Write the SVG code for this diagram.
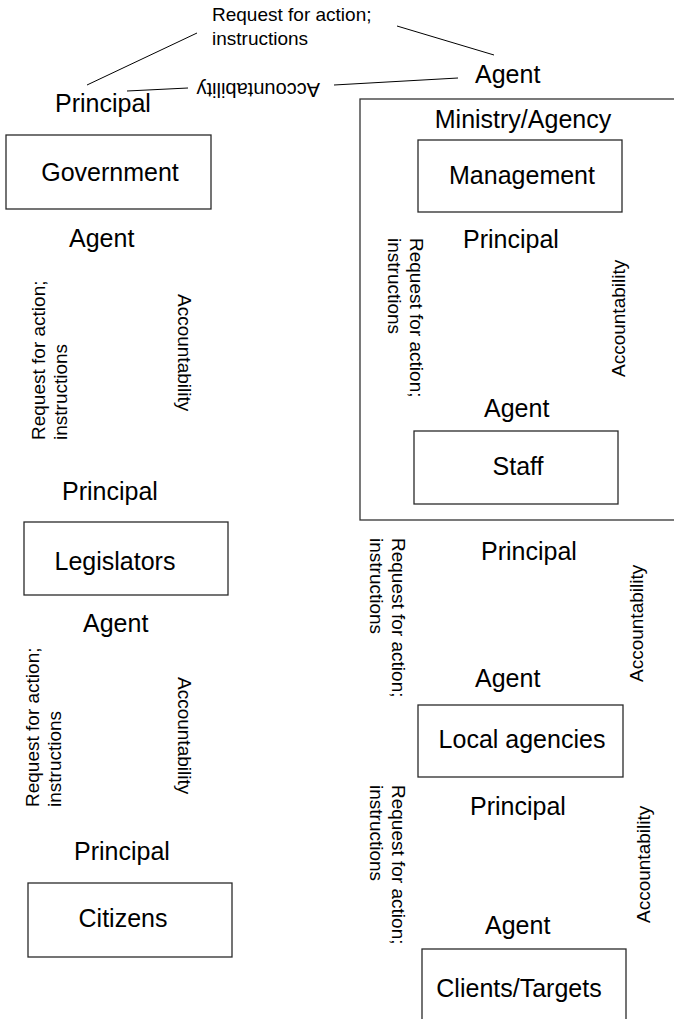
<svg xmlns="http://www.w3.org/2000/svg" width="674" height="1019" viewBox="0 0 674 1019">
  <style>
    text { font-family: "Liberation Sans", Arial, sans-serif; fill: #000; }
    .big { font-size: 25px; }
    .small { font-size: 19px; }
    .flip { font-size: 20px; }
    .mid { text-anchor: middle; }
    .box { fill: #fff; stroke: #2a2a2a; stroke-width: 1.3; }
    .frame { fill: none; stroke: #333; stroke-width: 1.3; }
    .link { stroke: #000; stroke-width: 1; fill: none; }
  </style>
  <rect width="674" height="1019" fill="#fff"/>

  <!-- top-level relation: government (principal) to ministry (agent) -->
  <g id="connectors">
    <line class="link" x1="87" y1="85" x2="197" y2="33"/>
    <line class="link" x1="397" y1="26" x2="494" y2="55"/>
    <line class="link" x1="127" y1="91" x2="188" y2="88"/>
    <line class="link" x1="334" y1="85" x2="458" y2="78"/>
  </g>

  <g id="top-labels">
    <text class="small" x="212" y="21">Request for action;</text>
    <text class="small" x="212" y="45">instructions</text>
    <text class="flip" transform="translate(320,83) rotate(180)">Accountability</text>
    <text class="big" x="55" y="112">Principal</text>
    <text class="big" x="475" y="83">Agent</text>
  </g>

  <!-- left column -->
  <g id="government">
    <rect class="box" x="6" y="135" width="205" height="74"/>
    <text class="big mid" x="110" y="181">Government</text>
  </g>
  <g id="gov-legislators-labels">
    <text class="big" x="69" y="247">Agent</text>
    <text class="small" transform="translate(45,440) rotate(-90)">Request for action;<tspan x="0" dy="22">instructions</tspan></text>
    <text class="small" transform="translate(178,294) rotate(90)">Accountability</text>
    <text class="big" x="62" y="500">Principal</text>
  </g>
  <g id="legislators">
    <rect class="box" x="24" y="522" width="204" height="73"/>
    <text class="big mid" x="115" y="570">Legislators</text>
  </g>
  <g id="legislators-citizens-labels">
    <text class="big" x="83" y="632">Agent</text>
    <text class="small" transform="translate(39,807) rotate(-90)">Request for action;<tspan x="0" dy="22">instructions</tspan></text>
    <text class="small" transform="translate(178,677) rotate(90)">Accountability</text>
    <text class="big" x="74" y="860">Principal</text>
  </g>
  <g id="citizens">
    <rect class="box" x="28" y="883" width="204" height="74"/>
    <text class="big mid" x="123" y="927">Citizens</text>
  </g>

  <!-- right column: the ministry frame runs past the right edge -->
  <g id="ministry">
    <rect class="frame" x="360" y="99" width="330" height="421"/>
    <text class="big mid" x="523" y="128">Ministry/Agency</text>
  </g>
  <g id="management">
    <rect class="box" x="418" y="140" width="204" height="72"/>
    <text class="big mid" x="522" y="184">Management</text>
  </g>
  <g id="management-staff-labels">
    <text class="big" x="463" y="248">Principal</text>
    <text class="small" transform="translate(410,238) rotate(90)">Request for action;<tspan x="0" dy="22">instructions</tspan></text>
    <text class="small" transform="translate(625,377) rotate(-90)">Accountability</text>
    <text class="big" x="484" y="417">Agent</text>
  </g>
  <g id="staff">
    <rect class="box" x="414" y="431" width="204" height="73"/>
    <text class="big mid" x="518" y="475">Staff</text>
  </g>
  <g id="ministry-local-labels">
    <text class="big" x="481" y="560">Principal</text>
    <text class="small" transform="translate(392,538) rotate(90)">Request for action;<tspan x="0" dy="22">instructions</tspan></text>
    <text class="small" transform="translate(643,682) rotate(-90)">Accountability</text>
    <text class="big" x="475" y="687">Agent</text>
  </g>
  <g id="local-agencies">
    <rect class="box" x="418" y="705" width="205" height="72"/>
    <text class="big mid" x="522" y="748">Local agencies</text>
  </g>
  <g id="local-clients-labels">
    <text class="big" x="470" y="815">Principal</text>
    <text class="small" transform="translate(392,785) rotate(90)">Request for action;<tspan x="0" dy="22">instructions</tspan></text>
    <text class="small" transform="translate(650,923) rotate(-90)">Accountability</text>
    <text class="big" x="485" y="934">Agent</text>
  </g>
  <g id="clients-targets">
    <rect class="box" x="422" y="949" width="204" height="85"/>
    <text class="big mid" x="519" y="997">Clients/Targets</text>
  </g>
</svg>
